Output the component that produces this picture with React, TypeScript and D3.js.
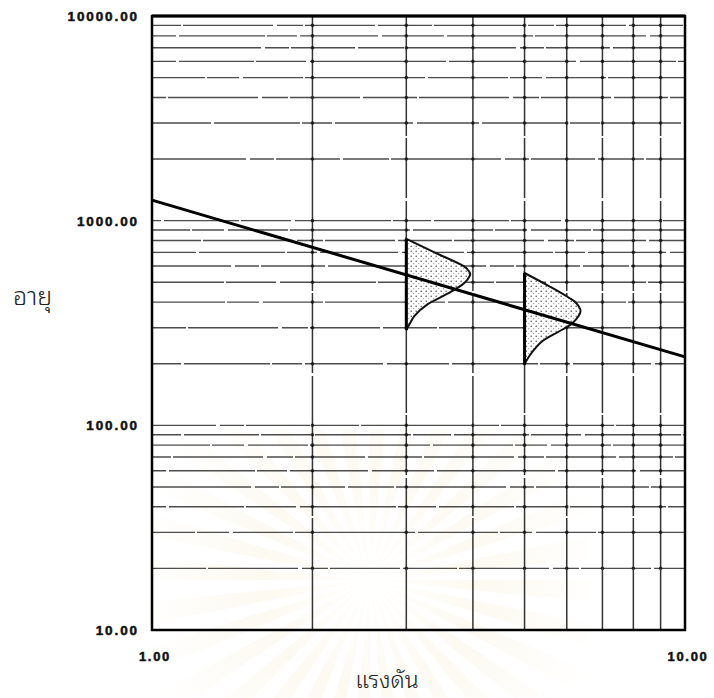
import React, { useMemo } from 'react';
import * as d3 from 'd3';

// Canvas and plot frame
const W = 714;
const H = 698;
const M = { left: 152, right: 685, top: 16, bottom: 630 };

// Axis ticks
const xTickValues = [1, 10];
const xTickLabels = ['1.00', '10.00'];
const yTickValues = [10, 100, 1000, 10000];
const yTickLabels = ['10.00', '100.00', '1000.00', '10000.00'];
const minorMultipliers = [2, 3, 4, 5, 6, 7, 8, 9];
const decades = [10, 100, 1000];

// Fitted stress–life line (log–log)
const fitStress = [1, 10];
const fitLife = [1260, 216];

// Life distribution at stress level 3
const dist1Stress = 3;
const dist1Life = [815, 700, 601, 581, 549, 513, 491, 442, 392, 342, 316, 292];
const dist1Density = [0, 0.44, 0.89, 0.95, 1.0, 0.95, 0.89, 0.66, 0.34, 0.125, 0.06, 0];

// Life distribution at stress level 5
const dist2Stress = 5;
const dist2Life = [555, 480, 419, 395, 362, 316, 289, 258, 226, 212, 199];
const dist2Density = [0, 0.375, 0.7, 0.81, 0.875, 0.75, 0.55, 0.28, 0.11, 0.05, 0];

const dashSet = [
  '54 2 90 4 26 2 70 3',
  '80 2 32 4 60 2 120 3',
  '38 3 75 2 50 4 96 2',
  '110 4 24 2 64 3 46 2',
  '62 3 86 2 30 3 78 4',
];

export default function App() {
  const x = useMemo(() => d3.scaleLog().domain([1, 10]).range([M.left, M.right]), []);
  const y = useMemo(() => d3.scaleLog().domain([10, 10000]).range([M.bottom, M.top]), []);
  const w = useMemo(() => d3.scaleLinear().domain([0, 1]).range([0, 64]), []);

  const hValues: number[] = [];
  decades.forEach((d) => {
    hValues.push(d);
    minorMultipliers.forEach((m) => hValues.push(d * m));
  });
  const hGrid = hValues.filter((v) => v > 10);
  const vGrid = minorMultipliers.slice();

  const fitLine = d3
    .line<number>()
    .x((_, i) => x(fitStress[i]))
    .y((d) => y(d))(fitLife) as string;

  const distPath = (stress: number, lives: number[], dens: number[]) =>
    d3
      .area<number>()
      .y((d) => y(d))
      .x0(() => x(stress))
      .x1((_, i) => x(stress) + w(dens[i]))
      .curve(d3.curveCatmullRom.alpha(0.5))(lives) as string;

  const d1 = distPath(dist1Stress, dist1Life, dist1Density);
  const d2 = distPath(dist2Stress, dist2Life, dist2Density);

  // faint watermark rays
  const cx = 370;
  const cy = 580;
  const rays = d3.range(32).map((i) => {
    const a0 = (i / 32) * Math.PI * 2;
    const a1 = a0 + (Math.PI * 2) / 64;
    const r = 240;
    return `M${cx},${cy}L${cx + r * Math.cos(a0)},${cy + r * Math.sin(a0)}L${cx + r * Math.cos(a1)},${cy + r * Math.sin(a1)}Z`;
  });

  const tickFont = "'Liberation Sans', Arial, sans-serif";
  const thaiFont = "'Noto Sans Thai Looped', 'Noto Sans Thai', 'Loma', 'Garuda', 'Norasi', sans-serif";

  return (
    <svg
      width={W}
      height={H}
      viewBox={`0 0 ${W} ${H}`}
      style={{ position: 'absolute', left: 0, top: 0, display: 'block', background: '#fff' }}
    >
      <defs>
        <pattern id="stipple" width="5" height="5" patternUnits="userSpaceOnUse">
          <rect width="5" height="5" fill="#fff" />
          <circle cx="1.2" cy="1.2" r="0.8" fill="#555" />
          <circle cx="3.7" cy="3.6" r="0.6" fill="#888" />
        </pattern>
        <radialGradient id="wmFade" cx={cx} cy={cy} r="240" gradientUnits="userSpaceOnUse">
          <stop offset="0" stopColor="#fdf9ec" stopOpacity="0.1" />
          <stop offset="0.45" stopColor="#f4ebcb" stopOpacity="0.28" />
          <stop offset="1" stopColor="#f4ebcb" stopOpacity="0" />
        </radialGradient>
        <clipPath id="wmClip">
          <rect x={150} y={430} width={440} height={268} />
        </clipPath>
      </defs>

      {/* watermark */}
      <g clipPath="url(#wmClip)">
        {rays.map((p, i) => (
          <path key={i} d={p} fill="url(#wmFade)" />
        ))}
      </g>

      {/* horizontal grid */}
      {hGrid.map((v, i) => (
        <line
          key={`h${v}`}
          x1={M.left}
          x2={M.right}
          y1={y(v)}
          y2={y(v)}
          stroke="#262626"
          strokeWidth={1.4}
          strokeOpacity={0.82}
          strokeDasharray={dashSet[i % dashSet.length]}
          strokeDashoffset={(i * 37) % 50}
        />
      ))}

      {/* vertical grid */}
      {vGrid.map((v, i) => (
        <line
          key={`v${v}`}
          x1={x(v)}
          x2={x(v)}
          y1={M.top}
          y2={M.bottom}
          stroke="#1e1e1e"
          strokeWidth={1.5}
          strokeOpacity={0.9}
          strokeDasharray={i % 2 ? '120 2 60 3 90 2' : '80 3 140 2 50 2'}
        />
      ))}

      {/* grid intersections */}
      {vGrid.map((sv) =>
        hGrid.map((lv) => (
          <circle key={`c${sv}-${lv}`} cx={x(sv)} cy={y(lv)} r={1.8} fill="#111" opacity={0.8} />
        ))
      )}

      {/* distributions */}
      <path d={d1} fill="url(#stipple)" stroke="#111" strokeWidth={2} />
      <path d={d2} fill="url(#stipple)" stroke="#111" strokeWidth={2} />
      <line x1={x(dist1Stress)} x2={x(dist1Stress)} y1={y(dist1Life[0])} y2={y(dist1Life[dist1Life.length - 1])} stroke="#000" strokeWidth={3} />
      <line x1={x(dist2Stress)} x2={x(dist2Stress)} y1={y(dist2Life[0])} y2={y(dist2Life[dist2Life.length - 1])} stroke="#000" strokeWidth={3} />

      {/* fitted line */}
      <path d={fitLine} fill="none" stroke="#000" strokeWidth={3} />

      {/* frame */}
      <rect x={M.left} y={M.top} width={M.right - M.left} height={M.bottom - M.top} fill="none" stroke="#000" strokeWidth={2.5} />
      <line x1={M.left} x2={M.right} y1={M.top} y2={M.top} stroke="#000" strokeWidth={3.2} />

      {/* y tick labels */}
      {yTickValues.map((v, i) => (
        <text
          key={`yl${v}`}
          x={139}
          y={y(v) + 5}
          textAnchor="end"
          fontFamily={tickFont}
          fontWeight="bold"
          fontSize={13.5}
          letterSpacing={1.9}
          fill="#111"
          stroke="#111"
          strokeWidth={0.5}
        >
          {yTickLabels[i]}
        </text>
      ))}

      {/* x tick labels */}
      {xTickValues.map((v, i) => (
        <text
          key={`xl${v}`}
          x={x(v) + 3}
          y={M.bottom + 31}
          textAnchor="middle"
          fontFamily={tickFont}
          fontWeight="bold"
          fontSize={13}
          letterSpacing={1.7}
          fill="#111"
          stroke="#111"
          strokeWidth={0.5}
        >
          {xTickLabels[i]}
        </text>
      ))}

      {/* axis titles */}
      <text x={13} y={305} fontFamily={thaiFont} fontWeight={300} fontSize={25} fill="#222">
        อายุ
      </text>
      <text x={387} y={688} textAnchor="middle" fontFamily={thaiFont} fontWeight={300} fontSize={23} fill="#222">
        แรงดัน
      </text>
    </svg>
  );
}
